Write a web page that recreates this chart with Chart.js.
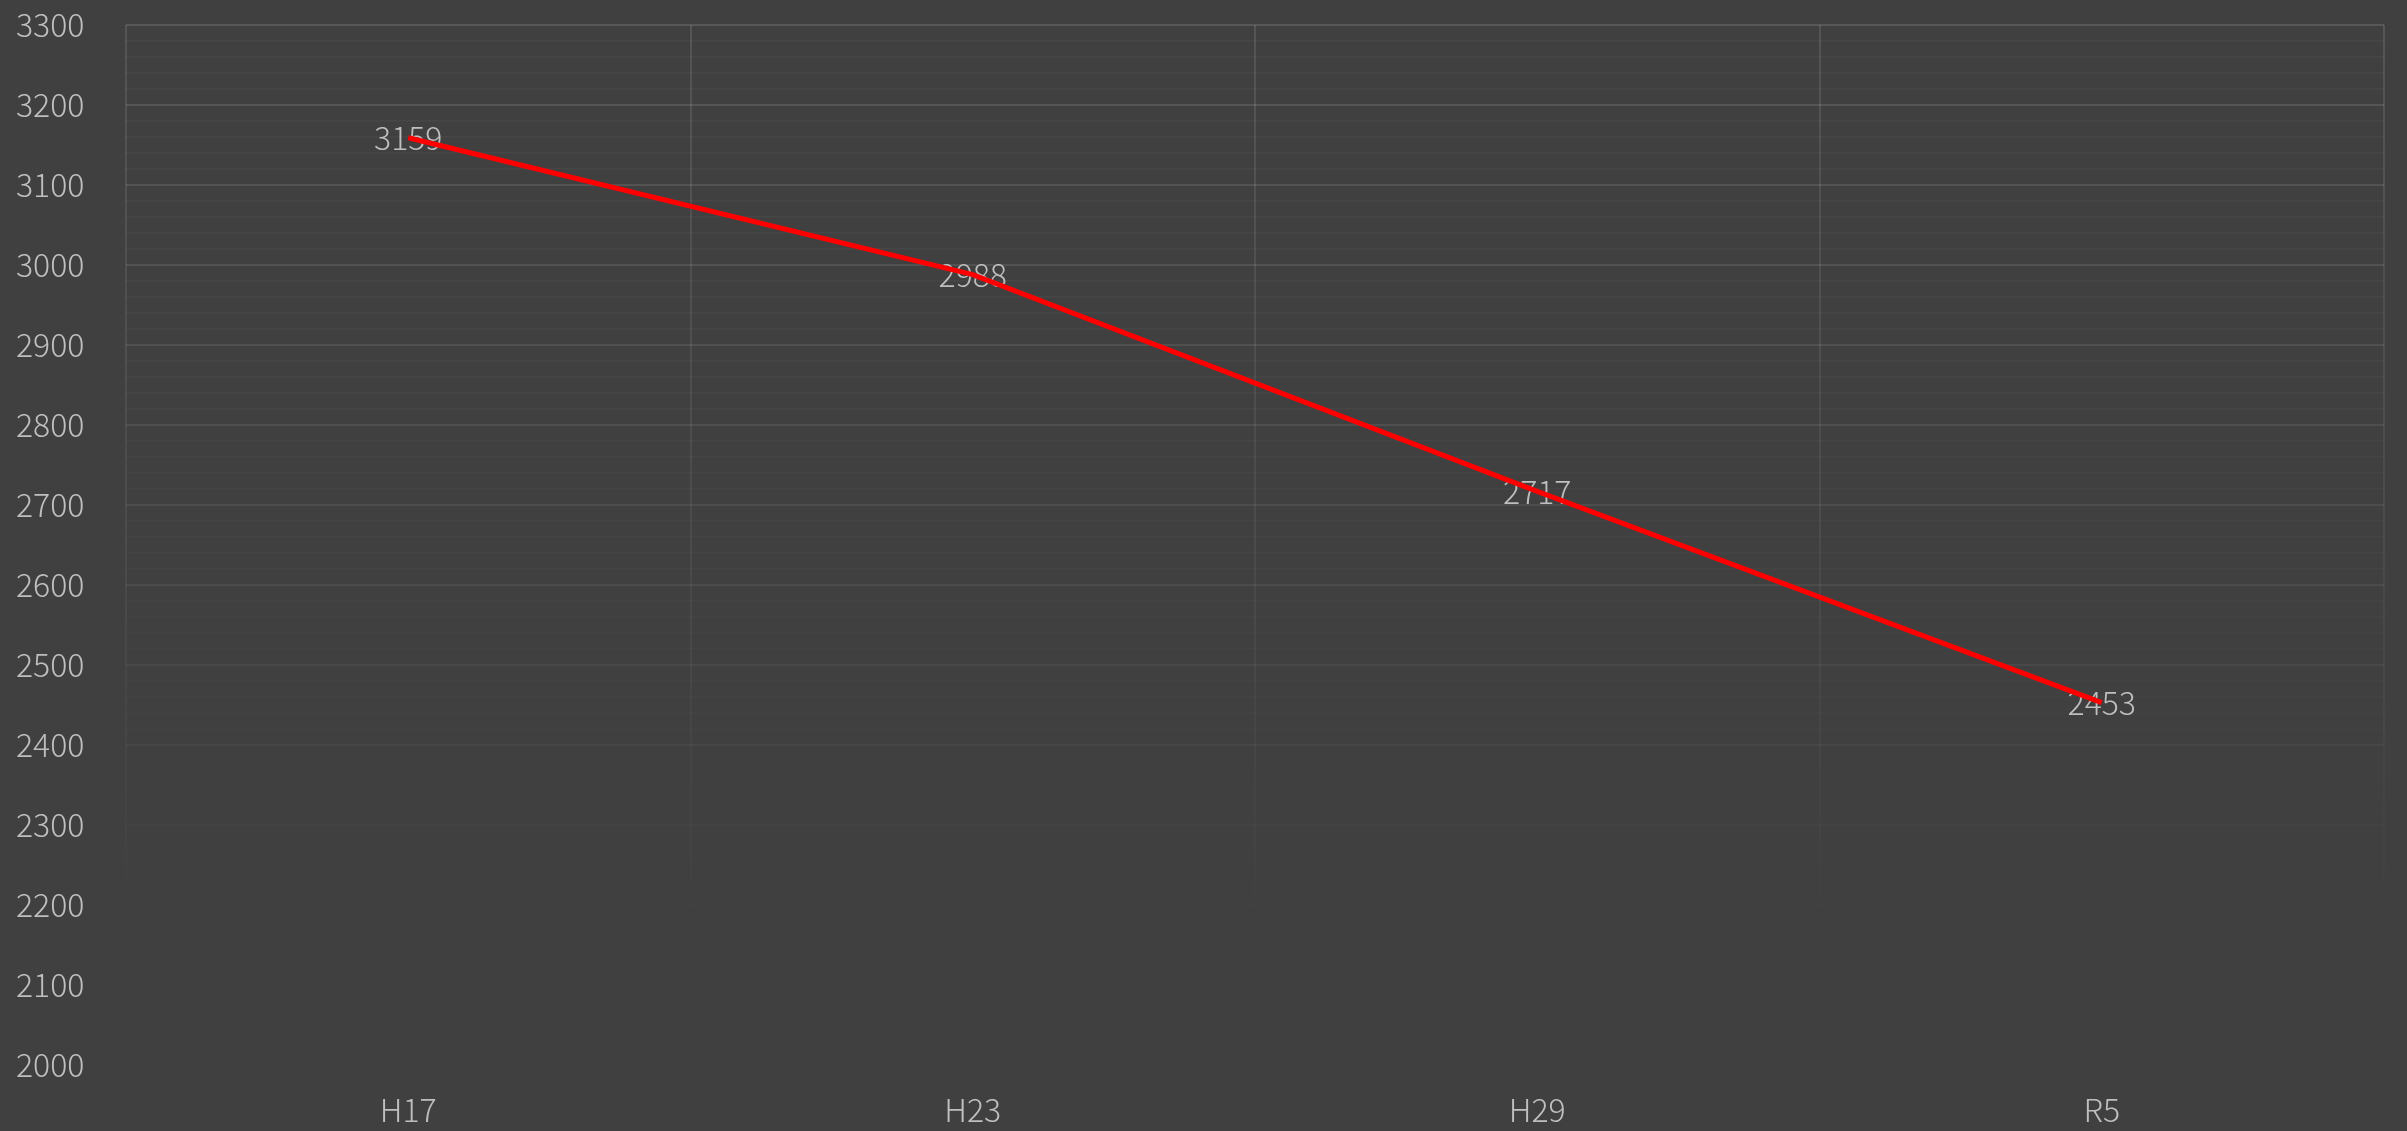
<!DOCTYPE html>
<html>
<head>
<meta charset="utf-8">
<script src="https://cdn.jsdelivr.net/npm/chart.js@4"></script>
<style>
  html, body { margin: 0; padding: 0; background: #404040; overflow: hidden; }
  canvas { display: block; }
</style>
</head>
<body>
<canvas id="grafico" width="2407" height="1131"></canvas>
<script>
// datos
const categorias = ['H17', 'H23', 'H29', 'R5'];
const valores = [3159, 2988, 2717, 2453];
const yMin = 2000;
const yMax = 3300;

const colorTexto = '#bfbfbf';
const fuente = "'Noto Sans CJK JP', 'Noto Sans', sans-serif";

// degradado para la cuadrícula (se desvanece hacia abajo)
function degradado(chart, alfa) {
    const ca = chart.chartArea;
    if (!ca) return 'rgba(255,255,255,' + alfa + ')';
    const fin = ca.top + (ca.bottom - ca.top) * 0.89;
    const g = chart.ctx.createLinearGradient(0, ca.top, 0, fin);
    g.addColorStop(0, 'rgba(255,255,255,' + alfa + ')');
    g.addColorStop(0.55, 'rgba(255,255,255,' + (alfa * 0.55) + ')');
    g.addColorStop(1, 'rgba(255,255,255,0)');
    return g;
}

// etiquetas de datos (debajo de la línea)
const etiquetas = {
    id: 'etiquetas',
    beforeDatasetsDraw(chart) {
        const ctx = chart.ctx;
        const meta = chart.getDatasetMeta(0);
        ctx.save();
        ctx.font = '300 32px ' + fuente;
        ctx.fillStyle = colorTexto;
        ctx.textAlign = 'center';
        ctx.textBaseline = 'middle';
        meta.data.forEach(function(p, i) {
            ctx.fillText(String(valores[i]), p.x, p.y);
        });
        ctx.restore();
    }
};

new Chart(document.getElementById('grafico'), {
    type: 'line',
    data: {
        labels: categorias,
        datasets: [{
            data: valores,
            borderColor: '#ff0000',
            borderWidth: 5,
            pointRadius: 0,
            tension: 0,
            fill: false
        }]
    },
    options: {
        responsive: false,
        animation: false,
        layout: {
            padding: { left: 16, right: 23, top: 25, bottom: 0 }
        },
        plugins: {
            legend: { display: false },
            tooltip: { enabled: false }
        },
        scales: {
            x: {
                offset: true,
                afterFit: function(scale) { scale.height = 66; },
                grid: {
                    offset: true,
                    drawTicks: false,
                    lineWidth: 2,
                    color: function(c) { return degradado(c.chart, 0.11); }
                },
                border: { display: false },
                ticks: {
                    color: colorTexto,
                    font: { family: fuente, size: 32, weight: 300 },
                    padding: 26,
                    maxRotation: 0
                }
            },
            y: {
                min: yMin,
                max: yMax,
                afterFit: function(scale) { scale.width = 110; },
                grid: {
                    drawTicks: false,
                    lineWidth: function(c) { return c.tick && c.tick.value % 100 === 0 ? 2 : 1.5; },
                    color: function(c) {
                        const mayor = c.tick && c.tick.value % 100 === 0;
                        return degradado(c.chart, mayor ? 0.12 : 0.04);
                    }
                },
                border: { display: false },
                ticks: {
                    stepSize: 20,
                    autoSkip: false,
                    crossAlign: 'far',
                    padding: 0,
                    color: colorTexto,
                    font: { family: fuente, size: 32, weight: 300 },
                    callback: function(v) { return v % 100 === 0 ? v : ''; }
                }
            }
        }
    },
    plugins: [etiquetas]
});
</script>
</body>
</html>
